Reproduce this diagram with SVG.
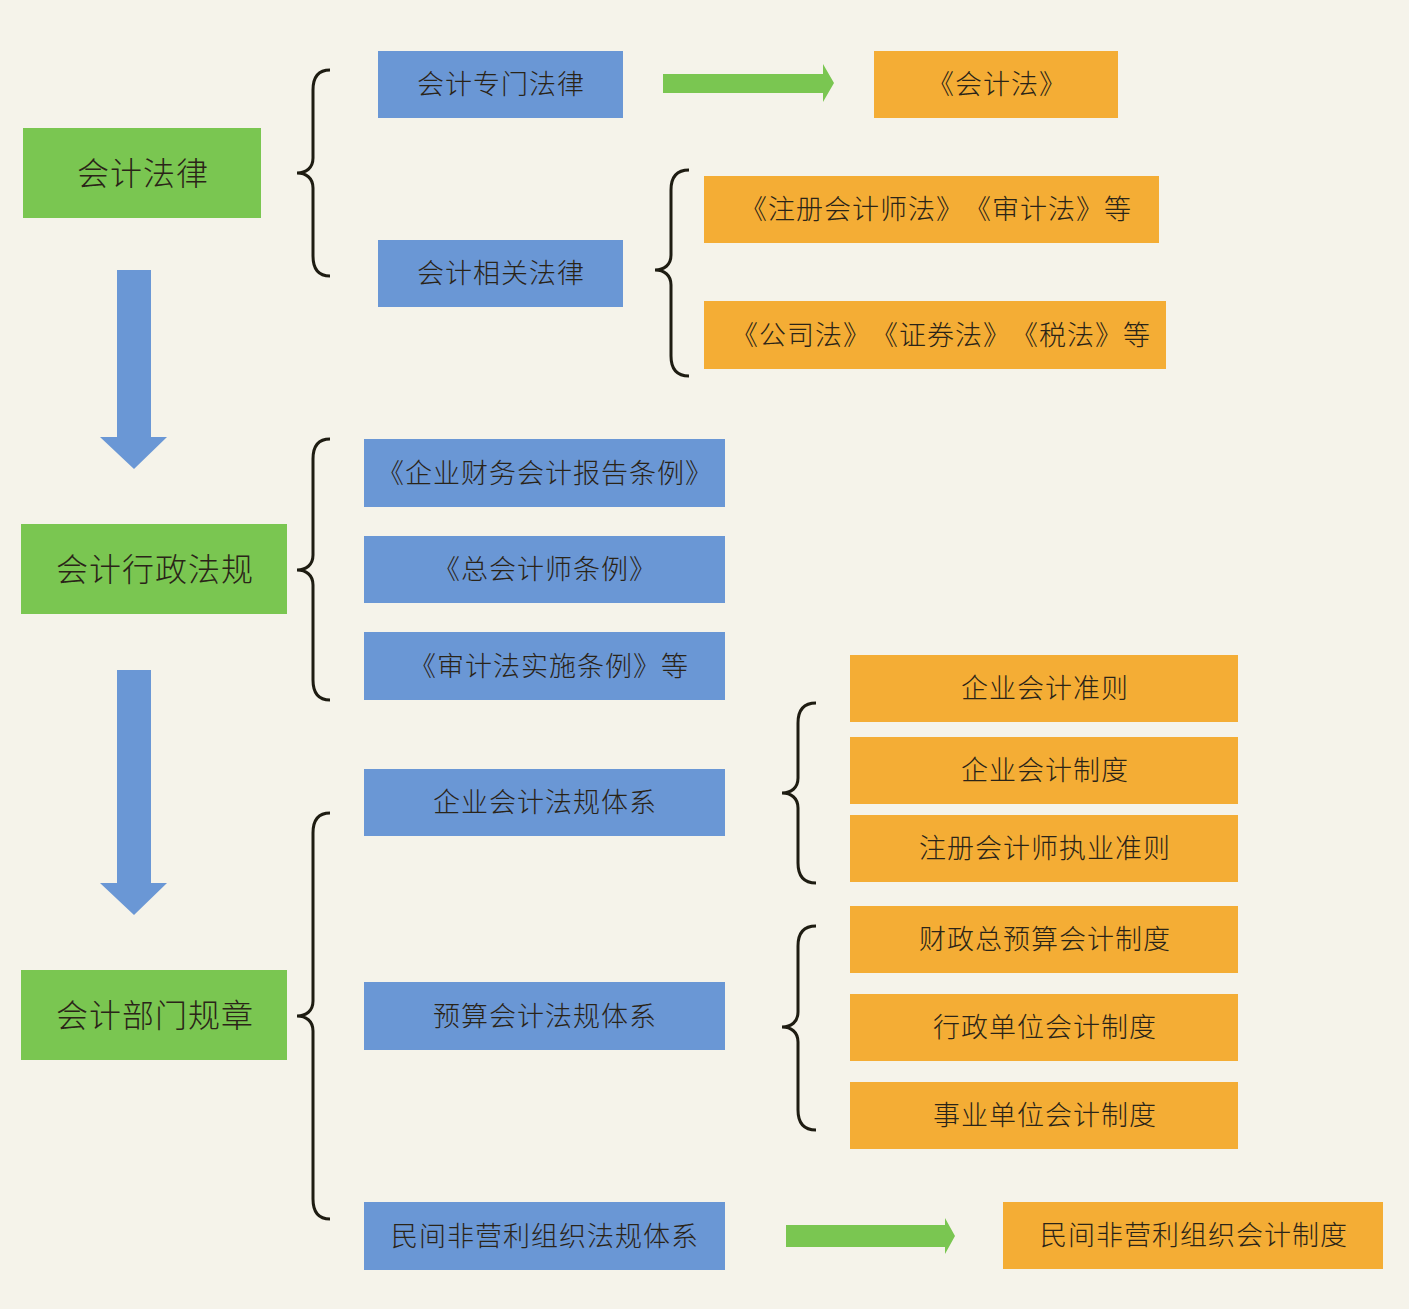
<svg xmlns="http://www.w3.org/2000/svg" width="1409" height="1309" viewBox="0 0 1409 1309">
<style>
.g{fill:#7ac651}
.b{fill:#6a97d5}
.o{fill:#f4ad35}
text{font-family:"Noto Sans CJK SC","Noto Sans",sans-serif;font-weight:300;fill:#2a2418;text-anchor:middle;dominant-baseline:central;text-spacing-trim:space-all}
.t1{font-size:32px;letter-spacing:1px}
.t2{font-size:27px;letter-spacing:1px}
.br{fill:none;stroke:#1e1c12;stroke-width:3}
.da{fill:#6a97d5}
.ga{fill:#7ac651}
</style>
<rect width="1409" height="1309" fill="#f5f3ea"/>
<g id="connectors">
<path class="da" d="M117,270 H151 V437 H167 L134,469 L100,437 H117 Z"/>
<path class="da" d="M117,670 H151 V883 H167 L134,915 L100,883 H117 Z"/>
<path class="ga" d="M663,74 H823 V64 L834,83 L823,102 V93 H663 Z"/>
<path class="ga" d="M786,1225 H945 V1218 L955,1236 L945,1254 V1247 H786 Z"/>
<path class="br" d="M330,70 C318,70 313,77 313,90 L313,158 C313,168 306,173 297,173 C306,173 313,178 313,188 L313,256 C313,269 318,276 330,276"/>
<path class="br" d="M689,170 C677,170 671,177 671,190 L671,255 C671,265 664,270 655,270 C664,270 671,275 671,285 L671,356 C671,369 677,376 689,376"/>
<path class="br" d="M330,439 C318,439 313,446 313,459 L313,555 C313,565 306,570 297,570 C306,570 313,575 313,585 L313,680 C313,693 318,700 330,700"/>
<path class="br" d="M816,703 C804,703 798,710 798,723 L798,778 C798,788 791,793 782,793 C791,793 798,798 798,808 L798,863 C798,876 804,883 816,883"/>
<path class="br" d="M816,926 C804,926 798,933 798,946 L798,1012 C798,1022 791,1027 782,1027 C791,1027 798,1032 798,1042 L798,1110 C798,1123 804,1130 816,1130"/>
<path class="br" d="M330,813 C318,813 313,820 313,833 L313,1001 C313,1011 306,1016 297,1016 C306,1016 313,1021 313,1031 L313,1199 C313,1212 318,1219 330,1219"/>
</g>
<g id="n1"><rect class="g" x="23" y="128" width="238" height="90"/><text class="t1" x="143" y="171">会计法律</text></g>
<g id="n2"><rect class="g" x="21" y="524" width="266" height="90"/><text class="t1" x="155" y="567">会计行政法规</text></g>
<g id="n3"><rect class="g" x="21" y="970" width="266" height="90"/><text class="t1" x="155" y="1013">会计部门规章</text></g>
<g id="n4"><rect class="b" x="378" y="51" width="245" height="67"/><text class="t2" x="501" y="82">会计专门法律</text></g>
<g id="n5"><rect class="b" x="378" y="240" width="245" height="67"/><text class="t2" x="501" y="271">会计相关法律</text></g>
<g id="n6"><rect class="o" x="874" y="51" width="244" height="67"/><text class="t2" x="997" y="82">《会计法》</text></g>
<g id="n7"><rect class="o" x="704" y="176" width="455" height="67"/><text class="t2" x="936" y="207">《注册会计师法》《审计法》等</text></g>
<g id="n8"><rect class="o" x="704" y="301" width="462" height="68"/><text class="t2" x="941" y="333">《公司法》《证券法》《税法》等</text></g>
<g id="n9"><rect class="b" x="364" y="439" width="361" height="68"/><text class="t2" x="545" y="471">《企业财务会计报告条例》</text></g>
<g id="n10"><rect class="b" x="364" y="536" width="361" height="67"/><text class="t2" x="545" y="567">《总会计师条例》</text></g>
<g id="n11"><rect class="b" x="364" y="632" width="361" height="68"/><text class="t2" x="549" y="664">《审计法实施条例》等</text></g>
<g id="n12"><rect class="b" x="364" y="769" width="361" height="67"/><text class="t2" x="545" y="800">企业会计法规体系</text></g>
<g id="n13"><rect class="b" x="364" y="982" width="361" height="68"/><text class="t2" x="545" y="1014">预算会计法规体系</text></g>
<g id="n14"><rect class="b" x="364" y="1202" width="361" height="68"/><text class="t2" x="545" y="1234">民间非营利组织法规体系</text></g>
<g id="n15"><rect class="o" x="850" y="655" width="388" height="67"/><text class="t2" x="1045" y="686">企业会计准则</text></g>
<g id="n16"><rect class="o" x="850" y="737" width="388" height="67"/><text class="t2" x="1045" y="768">企业会计制度</text></g>
<g id="n17"><rect class="o" x="850" y="815" width="388" height="67"/><text class="t2" x="1045" y="846">注册会计师执业准则</text></g>
<g id="n18"><rect class="o" x="850" y="906" width="388" height="67"/><text class="t2" x="1045" y="937">财政总预算会计制度</text></g>
<g id="n19"><rect class="o" x="850" y="994" width="388" height="67"/><text class="t2" x="1045" y="1025">行政单位会计制度</text></g>
<g id="n20"><rect class="o" x="850" y="1082" width="388" height="67"/><text class="t2" x="1045" y="1113">事业单位会计制度</text></g>
<g id="n21"><rect class="o" x="1003" y="1202" width="380" height="67"/><text class="t2" x="1194" y="1233">民间非营利组织会计制度</text></g>
</svg>
